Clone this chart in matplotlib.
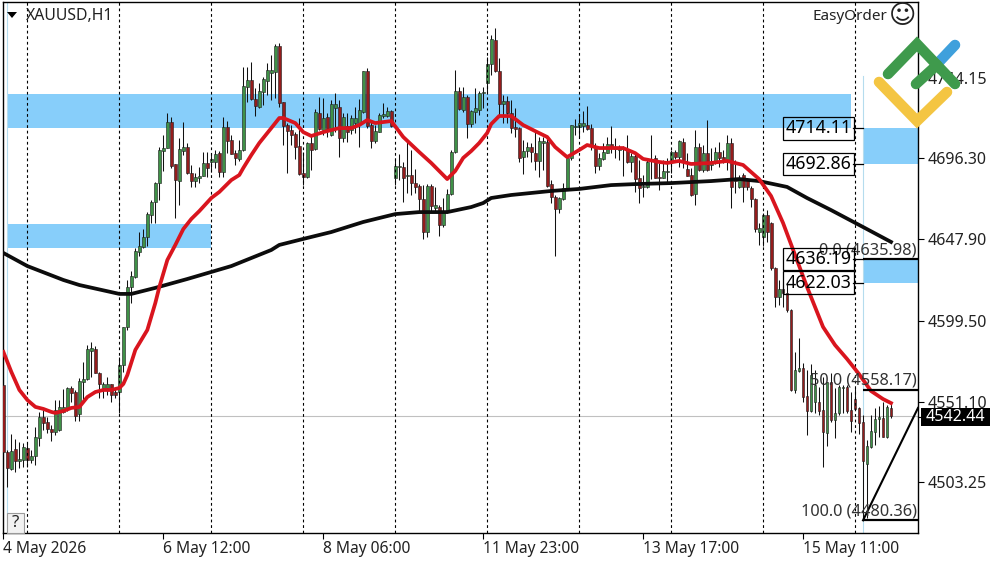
import matplotlib
matplotlib.use("Agg")
import matplotlib.pyplot as plt
from matplotlib.lines import Line2D
from matplotlib.patches import Rectangle, Polygon

plt.rcParams['font.family'] = ['Noto Sans', 'DejaVu Sans']

# XAUUSD H1 bars
opens = [4561.1, 4521.1, 4511.0, 4522.9, 4515.8, 4516.4, 4523.5, 4516.4, 4518.8, 4529.5,
         4542.0, 4539.0, 4534.9, 4533.1, 4534.3, 4545.0, 4547.4, 4559.3, 4556.9, 4543.8,
         4562.9, 4564.7, 4581.4, 4582.6, 4568.2, 4559.3, 4559.3, 4561.7, 4556.9, 4556.9,
         4573.0, 4595.7, 4619.5, 4625.5, 4640.4, 4643.4, 4649.3, 4662.4, 4670.2, 4681.5,
         4700.6, 4702.4, 4717.9, 4692.9, 4682.7, 4700.6, 4703.0, 4687.5, 4682.7, 4684.5,
         4685.7, 4693.5, 4694.1, 4694.1, 4699.4, 4688.1, 4714.9, 4707.2, 4699.4, 4695.9,
         4701.2, 4738.8, 4743.0, 4731.6, 4726.8, 4735.8, 4742.4, 4747.1, 4747.7, 4763.2,
         4729.8, 4716.1, 4713.1, 4710.8, 4703.6, 4687.5, 4685.1, 4705.4, 4701.8, 4723.3,
         4713.1, 4720.9, 4710.2, 4726.2, 4726.8, 4708.4, 4715.5, 4713.1, 4717.3, 4717.3,
         4723.9, 4748.3, 4716.1, 4706.6, 4711.9, 4721.5, 4721.5, 4724.5, 4684.5, 4691.1,
         4691.1, 4685.7, 4686.3, 4681.5, 4679.8, 4672.0, 4652.3, 4679.8, 4666.6, 4667.2,
         4656.5, 4664.2, 4675.0, 4700.0, 4736.4, 4725.1, 4732.8, 4716.7, 4723.9, 4725.1,
         4735.2, 4741.2, 4752.5, 4766.8, 4748.3, 4728.6, 4730.4, 4723.3, 4714.9, 4714.3,
         4697.0, 4700.6, 4703.0, 4699.4, 4694.7, 4705.4, 4706.0, 4680.9, 4673.2, 4666.0,
         4672.0, 4677.9, 4696.5, 4714.9, 4714.9, 4715.5, 4716.1, 4714.3, 4703.6, 4691.7,
         4695.9, 4699.4, 4704.8, 4701.8, 4701.2, 4701.8, 4701.8, 4694.1, 4697.6, 4684.5,
         4679.2, 4679.2, 4694.7, 4696.5, 4685.1, 4684.5, 4688.1, 4694.1, 4700.0, 4697.0,
         4706.0, 4689.9, 4686.3, 4675.0, 4703.0, 4689.3, 4699.4, 4692.3, 4694.1, 4700.0,
         4697.0, 4695.3, 4705.4, 4684.5, 4679.2, 4686.3, 4683.9, 4678.6, 4672.0, 4652.3,
         4649.3, 4662.4, 4657.7, 4630.9, 4613.6, 4618.3, 4615.9, 4605.8, 4558.1, 4569.4,
         4571.2, 4554.5, 4545.6, 4550.9, 4550.9, 4546.2, 4532.5, 4562.9, 4540.2, 4544.4,
         4559.3, 4559.9, 4546.2, 4552.7, 4547.4, 4539.0, 4514.0, 4524.1, 4533.1, 4540.8,
         4541.4, 4530.1, 4547.4]
highs = [4565.8, 4522.3, 4531.9, 4528.9, 4527.1, 4526.5, 4526.5, 4522.3, 4536.1, 4544.9,
         4546.2, 4542.0, 4537.2, 4552.1, 4552.1, 4558.7, 4559.9, 4560.5, 4558.1, 4565.3,
         4574.8, 4584.9, 4586.7, 4584.4, 4568.8, 4562.9, 4565.8, 4561.7, 4559.3, 4577.8,
         4595.7, 4623.7, 4629.1, 4642.8, 4652.3, 4654.1, 4664.2, 4671.4, 4682.1, 4703.0,
         4710.2, 4723.3, 4720.9, 4692.9, 4708.4, 4717.9, 4705.4, 4692.3, 4687.5, 4691.1,
         4700.0, 4700.0, 4699.4, 4701.2, 4700.6, 4720.9, 4718.5, 4710.2, 4701.2, 4707.2,
         4750.7, 4750.7, 4753.7, 4738.2, 4741.2, 4744.7, 4753.1, 4757.9, 4764.4, 4765.0,
         4729.8, 4717.3, 4716.1, 4712.0, 4720.3, 4700.0, 4706.0, 4710.2, 4725.7, 4732.8,
         4732.2, 4723.3, 4731.0, 4735.2, 4731.0, 4723.3, 4723.3, 4722.1, 4726.9, 4731.6,
         4748.3, 4750.1, 4717.9, 4716.1, 4723.3, 4729.2, 4726.9, 4725.1, 4696.5, 4698.8,
         4694.1, 4706.0, 4701.2, 4689.9, 4680.9, 4680.3, 4680.9, 4680.9, 4679.2, 4668.4,
         4672.6, 4677.9, 4701.2, 4748.9, 4738.8, 4738.8, 4734.0, 4725.1, 4738.2, 4736.4,
         4738.8, 4756.7, 4769.8, 4774.0, 4756.1, 4734.0, 4733.4, 4731.0, 4726.2, 4714.9,
         4707.2, 4706.0, 4705.4, 4712.0, 4709.0, 4709.0, 4709.0, 4683.3, 4674.4, 4673.2,
         4681.5, 4697.0, 4716.1, 4719.7, 4722.1, 4724.5, 4727.4, 4716.7, 4705.4, 4699.4,
         4705.4, 4709.0, 4715.5, 4708.4, 4704.2, 4703.6, 4710.2, 4699.4, 4699.4, 4695.3,
         4686.3, 4696.5, 4710.2, 4698.2, 4693.5, 4695.3, 4696.5, 4701.2, 4701.2, 4707.2,
         4708.4, 4699.4, 4690.5, 4713.1, 4705.4, 4704.2, 4719.1, 4702.4, 4703.0, 4706.0,
         4701.2, 4710.2, 4708.4, 4695.3, 4686.3, 4687.5, 4684.5, 4679.8, 4672.6, 4657.7,
         4663.6, 4665.4, 4658.3, 4631.5, 4623.7, 4621.9, 4621.9, 4606.4, 4580.8, 4589.1,
         4574.2, 4570.0, 4573.6, 4570.0, 4559.9, 4565.8, 4562.9, 4568.2, 4559.3, 4561.1,
         4561.1, 4561.1, 4556.9, 4559.3, 4548.0, 4543.2, 4528.3, 4543.2, 4547.4, 4548.6,
         4550.9, 4549.2, 4550.3]
lows = [4513.4, 4500.3, 4510.4, 4509.2, 4511.6, 4512.2, 4512.2, 4514.6, 4513.4, 4524.7,
        4534.3, 4532.5, 4527.7, 4531.3, 4533.7, 4544.4, 4545.6, 4550.9, 4539.6, 4539.6,
        4550.3, 4564.1, 4565.8, 4568.2, 4553.3, 4553.3, 4555.1, 4550.9, 4553.3, 4544.4,
        4568.8, 4593.9, 4610.0, 4624.9, 4638.0, 4642.8, 4644.0, 4657.7, 4657.7, 4671.4,
        4688.7, 4702.4, 4690.5, 4660.7, 4668.4, 4698.2, 4686.9, 4679.2, 4679.2, 4681.5,
        4685.7, 4685.1, 4688.1, 4690.5, 4685.1, 4685.1, 4699.4, 4698.8, 4692.3, 4694.7,
        4700.6, 4729.8, 4731.0, 4721.5, 4726.2, 4728.0, 4734.0, 4731.0, 4732.2, 4726.8,
        4704.2, 4687.5, 4704.2, 4695.9, 4686.3, 4680.3, 4684.5, 4689.3, 4701.2, 4713.1,
        4710.2, 4709.0, 4709.6, 4711.9, 4697.0, 4706.0, 4706.0, 4710.8, 4711.4, 4703.0,
        4723.3, 4714.3, 4702.4, 4705.4, 4711.9, 4720.3, 4720.9, 4714.9, 4680.3, 4683.3,
        4670.2, 4675.6, 4674.4, 4675.6, 4664.2, 4648.1, 4649.3, 4664.2, 4664.2, 4649.9,
        4655.3, 4663.6, 4674.4, 4699.4, 4725.1, 4723.9, 4708.4, 4714.9, 4717.3, 4722.1,
        4726.2, 4735.8, 4745.9, 4747.7, 4722.1, 4717.3, 4717.3, 4711.4, 4709.0, 4694.1,
        4686.9, 4697.0, 4694.1, 4689.3, 4685.1, 4689.3, 4679.2, 4669.6, 4638.0, 4663.6,
        4671.4, 4677.4, 4695.3, 4710.2, 4709.0, 4711.9, 4713.1, 4701.2, 4687.5, 4689.3,
        4695.3, 4699.4, 4699.4, 4696.5, 4695.3, 4685.7, 4693.5, 4688.1, 4676.2, 4669.6,
        4673.2, 4678.6, 4683.9, 4684.5, 4677.4, 4684.5, 4681.5, 4687.5, 4695.9, 4691.1,
        4690.5, 4685.7, 4673.8, 4668.4, 4688.7, 4688.1, 4688.7, 4689.3, 4692.9, 4691.1,
        4693.5, 4689.3, 4666.6, 4675.6, 4678.6, 4670.2, 4677.4, 4667.2, 4652.3, 4644.6,
        4644.0, 4646.4, 4629.7, 4607.6, 4608.8, 4607.6, 4604.6, 4557.5, 4556.3, 4568.8,
        4550.9, 4531.3, 4545.0, 4544.4, 4543.2, 4512.2, 4524.7, 4539.0, 4529.5, 4543.2,
        4544.4, 4544.4, 4533.1, 4546.2, 4531.9, 4480.6, 4481.8, 4523.5, 4525.3, 4530.1,
        4530.1, 4529.5, 4541.4]
closes = [4521.1, 4511.6, 4521.7, 4515.8, 4517.0, 4524.1, 4516.4, 4518.8, 4530.1, 4542.0,
          4538.4, 4534.9, 4533.1, 4546.2, 4548.0, 4548.0, 4559.3, 4556.3, 4542.6, 4563.5,
          4564.7, 4582.6, 4583.2, 4568.2, 4561.7, 4561.7, 4561.7, 4555.1, 4555.1, 4573.0,
          4595.7, 4619.5, 4626.1, 4641.0, 4644.0, 4649.3, 4663.0, 4670.2, 4681.5, 4701.2,
          4702.4, 4717.9, 4691.7, 4683.3, 4701.8, 4703.0, 4687.5, 4682.7, 4685.1, 4685.7,
          4693.5, 4690.5, 4695.9, 4698.8, 4688.1, 4714.9, 4706.6, 4698.8, 4696.5, 4701.2,
          4739.4, 4743.0, 4731.6, 4727.4, 4736.4, 4743.6, 4748.9, 4748.9, 4763.2, 4729.2,
          4715.5, 4712.5, 4710.2, 4703.0, 4686.9, 4685.1, 4705.4, 4701.2, 4723.9, 4713.7,
          4720.3, 4713.1, 4728.6, 4728.6, 4708.4, 4720.9, 4711.9, 4720.3, 4720.3, 4725.1,
          4748.3, 4715.5, 4706.6, 4712.5, 4722.1, 4722.7, 4724.5, 4715.5, 4691.7, 4691.7,
          4684.5, 4686.3, 4681.5, 4679.2, 4672.0, 4652.3, 4679.8, 4667.8, 4668.4, 4656.5,
          4664.2, 4675.0, 4700.0, 4736.4, 4725.7, 4732.8, 4716.7, 4724.5, 4726.2, 4735.2,
          4735.8, 4752.5, 4767.4, 4748.3, 4728.6, 4730.4, 4723.3, 4714.3, 4713.7, 4696.5,
          4700.6, 4703.0, 4700.0, 4694.7, 4706.6, 4706.6, 4679.8, 4673.2, 4666.0, 4672.6,
          4678.6, 4696.5, 4716.1, 4715.5, 4717.3, 4717.3, 4713.7, 4703.6, 4691.7, 4696.5,
          4700.0, 4704.8, 4702.4, 4702.4, 4702.4, 4702.4, 4694.1, 4697.6, 4683.9, 4678.6,
          4679.8, 4694.1, 4695.3, 4684.5, 4684.5, 4688.7, 4688.7, 4700.0, 4697.0, 4706.6,
          4695.3, 4685.7, 4674.4, 4703.0, 4689.3, 4699.4, 4689.3, 4694.1, 4700.0, 4696.5,
          4694.1, 4705.4, 4679.2, 4682.7, 4684.5, 4679.2, 4679.2, 4672.0, 4654.1, 4654.7,
          4662.4, 4652.3, 4630.9, 4613.6, 4618.3, 4615.9, 4605.8, 4558.1, 4570.0, 4571.2,
          4553.9, 4545.6, 4567.0, 4561.1, 4545.6, 4533.1, 4562.9, 4540.2, 4544.4, 4559.9,
          4559.9, 4545.6, 4539.6, 4546.8, 4538.4, 4515.8, 4524.7, 4533.7, 4540.8, 4542.0,
          4530.1, 4548.0, 4542.44]

# moving averages, read at these bar numbers
ma_fast_bars = [0, 2, 4, 6, 8, 10, 12, 13, 15, 17, 19, 21, 23, 25, 27, 29, 30, 31, 33, 36, 38, 39,
                41, 43, 45, 47, 49, 52, 54, 57, 59, 60, 62, 64, 67, 69, 70, 73, 75, 77, 80, 84,
                87, 89, 91, 93, 97, 100, 104, 107, 111, 113, 115, 117, 119, 121, 122, 124, 127,
                130, 133, 136, 138, 141, 144, 146, 149, 155, 158, 160, 164, 166, 169, 172, 177,
                181, 185, 189, 192, 195, 198, 201, 205, 208, 211, 214, 217, 220, 222]
ma_fast = [4580.8, 4568.8, 4558.1, 4552.1, 4548.0, 4546.8, 4545.0, 4544.4, 4545.6, 4547.4, 4548.0,
           4553.9, 4556.9, 4558.1, 4558.1, 4559.3, 4561.7, 4567.0, 4582.0, 4593.9, 4610.0, 4619.5,
           4635.6, 4644.6, 4654.1, 4660.1, 4664.8, 4672.6, 4676.2, 4683.3, 4686.3, 4690.5, 4698.2,
           4705.4, 4714.3, 4720.3, 4720.3, 4717.3, 4711.9, 4709.6, 4711.9, 4714.3, 4714.3, 4716.1,
           4719.1, 4717.3, 4718.5, 4709.0, 4700.0, 4693.5, 4683.9, 4688.7, 4696.5, 4700.6, 4705.4,
           4711.4, 4716.7, 4721.5, 4721.5, 4716.1, 4712.5, 4709.0, 4703.0, 4697.0, 4701.2, 4704.2,
           4702.4, 4702.4, 4699.4, 4695.9, 4694.1, 4693.5, 4694.7, 4692.9, 4693.5, 4694.7, 4692.3,
           4683.9, 4673.8, 4657.7, 4638.6, 4619.5, 4595.7, 4584.9, 4576.6, 4567.6, 4557.5, 4552.7,
           4550.3]
ma_slow_bars = [0, 6, 15, 19, 29, 32, 38, 46, 52, 57, 62, 67, 69, 75, 82, 90, 98, 104, 111, 117, 120,
                122, 127, 137, 144, 152, 158, 167, 177, 184, 189, 196, 201, 207, 215, 222]
ma_slow = [4639.8, 4632.0, 4623.7, 4620.7, 4615.4, 4615.4, 4619.0, 4624.3, 4628.5, 4632.0, 4636.8,
           4641.6, 4644.6, 4648.2, 4652.3, 4658.3, 4663.0, 4664.2, 4664.2, 4667.2, 4669.6, 4672.6,
           4674.4, 4676.8, 4678.0, 4680.3, 4680.9, 4681.5, 4682.7, 4683.9, 4682.7, 4679.2, 4672.6,
           4665.4, 4655.3, 4646.4]

# zones: first bar, last bar, top price, bottom price
zone_starts = [1, 1, 215, 215]
zone_ends = [212, 52, 229, 229]
zone_tops = [4734.6, 4657.1, 4714.11, 4636.19]
zone_bottoms = [4714.11, 4642.8, 4692.86, 4622.03]
zone_labels = [4714.11, 4692.86, 4636.19, 4622.03]

fib_prices = [4635.98, 4558.17, 4480.36]
fib_levels = ['0.0', '50.0', '100.0']
fib_trend_end = 4547.4
last_price = 4542.44

grid_bars = [6, 29, 52, 75, 98, 121, 144, 167, 190, 213]
time_ticks = [0, 40, 80, 120, 160, 200]
time_labels = ['4 May 2026', '6 May 12:00', '8 May 06:00', '11 May 23:00', '13 May 17:00', '15 May 11:00']
price_ticks = [4744.15, 4696.30, 4647.90, 4599.50, 4551.10, 4503.25]

W, H = 1000, 562
GREEN = '#3f9147'
RED = '#941c1c'
ZONE = '#87cefa'


def fx(x):
    return x / W


def fy(y):
    return 1 - y / H


fig = plt.figure(figsize=(W / 100, H / 100), dpi=100, facecolor='white')
ax = fig.add_axes([fx(3), fy(533), fx(915), 531 / H])
ax.set_xlim(-0.1, 228.75)
ax.set_ylim(4472.8, 4789.5)

for s, e, t, b in zip(zone_starts, zone_ends, zone_tops, zone_bottoms):
    ax.add_patch(Rectangle((s, b), e - s, t - b, fc=ZONE, ec='none', zorder=1))
ax.axvline(1, color='#b5dcee', lw=0.8, zorder=1)
ax.axvline(215, ymax=0.86, color='#b5dcee', lw=0.8, zorder=1)
ax.axhline(last_price, color='#c0c0c0', lw=0.8, zorder=1.5)

bars = list(range(len(opens)))
ax.vlines(bars, lows, highs, color='#111111', lw=0.75, zorder=2)
for i, o, c in zip(bars, opens, closes):
    col = GREEN if c >= o else RED
    ax.add_patch(Rectangle((i - 0.36, min(o, c)), 0.72, abs(c - o), fc=col, ec='#1a1a1a', lw=0.4, zorder=3))

for b in grid_bars:
    ax.axvline(b, color='black', lw=0.8, ls=(0, (2.5, 2.5)), zorder=3.5)

ax.plot(ma_slow_bars, ma_slow, color='#0c0c0c', lw=2.7, zorder=4)
ax.plot(ma_fast_bars, ma_fast, color='#d9151e', lw=2.7, zorder=5)

# fibo: levels on the right and the trend line
for p, lev in zip(fib_prices, fib_levels):
    ax.plot([215, 228.75], [p, p], color='black', lw=1.6, zorder=5, solid_capstyle='butt')
    ax.text(228.4, p + 5.4, f'{lev} ({p:.2f})', ha='right', va='center', fontsize=11.8, color='#333333', zorder=6)
ax.plot([215, 228.75], [fib_prices[2], fib_trend_end], color='black', lw=1.5, zorder=5)

# zone price boxes
for p in zone_labels:
    ax.text(203.9, p, f'{p:.2f}', ha='center', va='center', fontsize=12.8, color='black', zorder=7,
            bbox=dict(boxstyle='square,pad=0.13', fc='none', ec='black', lw=0.9))
    ax.plot([212.6, 215], [p, p], color='black', lw=0.9, zorder=6)

ax.set_xticks(time_ticks)
ax.set_xticklabels(time_labels, ha='left', fontsize=11.2, color='#222222')
ax.yaxis.tick_right()
ax.set_yticks(price_ticks)
ax.set_yticklabels([f'{p:.2f}' for p in price_ticks], fontsize=11.5, color='#222222')
ax.tick_params(axis='both', length=4, width=0.8, color='black', pad=3)
ax.tick_params(axis='x', pad=2)
for sp in ax.spines.values():
    sp.set_linewidth(1.0)

# header text and small controls
fig.text(fx(26), fy(16), 'XAUUSD,H1', fontsize=11.4, va='center', color='#222222')
fig.patches.append(Polygon([(fx(7), fy(12)), (fx(17), fy(12)), (fx(12), fy(18))], closed=True, fc='black', ec='none',
                           transform=fig.transFigure))
fig.text(fx(813), fy(16), 'EasyOrder', fontsize=11, va='center', color='#222222')
fig.text(fx(903), fy(16), '\u263a', fontsize=19, ha='center', va='center', family='DejaVu Sans', color='#222222')
fig.patches.append(Rectangle((fx(7), fy(533)), 17 / W, 20 / H, fc='#f2f2f2', ec='#9a9a9a', lw=0.8,
                             transform=fig.transFigure))
fig.text(fx(15), fy(523), '?', fontsize=12, ha='center', va='center', color='#222222')

# last price tag
fig.patches.append(Rectangle((fx(921), fy(426)), 69 / W, 18 / H, fc='black', ec='none', transform=fig.transFigure))
fig.text(fx(926), fy(417), f'{last_price:.2f}', fontsize=11.5, va='center', color='white')
fig.add_artist(Line2D([fx(918), fx(921)], [fy(417), fy(417)], color='black', lw=0.8))

# logo over the axis
logo = [
    ('#f4c542', [(879, 82), (917, 121), (947, 92)]),
    ('#3fa0dc', [(938, 63), (955, 45)]),
    ('#3f9a4c', [(888, 74), (917, 44), (955, 84)]),
    ('#3f9a4c', [(916, 84), (937, 65)]),
]
for col, pts in logo:
    fig.add_artist(Line2D([fx(p[0]) for p in pts], [fy(p[1]) for p in pts], color=col, lw=7.6,
                          solid_capstyle='round', solid_joinstyle='miter', zorder=10))

fig.savefig('out.png', dpi=100)
